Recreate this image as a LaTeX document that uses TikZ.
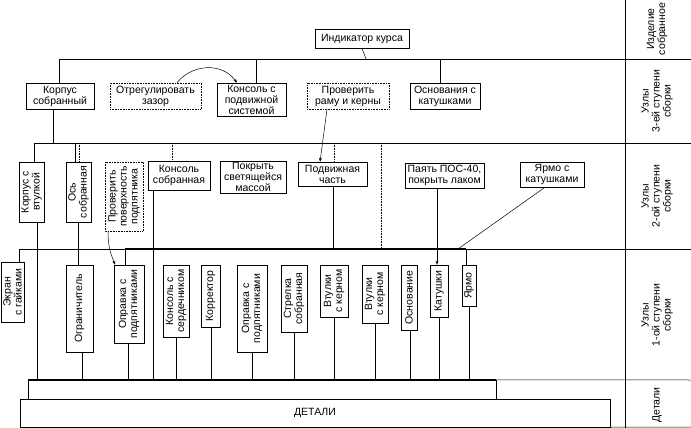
\documentclass[tikz,border=0pt]{standalone}
\usepackage{fontspec}
\setmainfont{Liberation Sans}
\usetikzlibrary{arrows.meta}
\begin{document}
\begin{tikzpicture}[x=1pt,y=-1pt,
  every node/.style={font=\fontsize{10.5}{11}\selectfont, align=center, inner sep=1pt},
  box/.style={draw, line width=0.5pt},
  dbox/.style={draw, densely dotted, line width=0.6pt},
  vbox/.style={box, rotate=90},
  vdbox/.style={dbox, rotate=90},
  ln/.style={line width=0.5pt},
  dl/.style={densely dotted, line width=0.6pt},
  arr/.style={ln, -{Stealth[length=4pt,width=3pt]}},
  bus/.style={line width=1.1pt},
  lab/.style={rotate=90, font=\fontsize{10.5}{11}\selectfont}]
\useasboundingbox (0,0) rectangle (691,428);
% row 3 and top
\node[box, minimum width=94, minimum height=19] (ind) at (362,38.5) {Индикатор курса};
\node[box, minimum width=68, minimum height=26] (korp3) at (60,96) {Корпус\\собранный};
\node[dbox, minimum width=91, minimum height=26] (otr) at (155.5,96) {Отрегулировать\\зазор};
\node[box, minimum width=69, minimum height=33] (kons3) at (251.5,99.5) {Консоль с\\подвижной\\системой};
\node[dbox, minimum width=82, minimum height=26] (prov3) at (348,96) {Проверить\\раму и керны};
\node[box, minimum width=70, minimum height=26] (osn3) at (445,96) {Основания с\\катушками};
% row 2
\node[vbox, minimum width=60, minimum height=25] (kv) at (31.5,192) {Корпус с\\втулкой};
\node[vbox, minimum width=60, minimum height=25] (os) at (78.5,192) {Ось\\собранная};
\node[vdbox, minimum width=69, minimum height=38] (pp) at (124,196.5) {Проверить\\поверхность\\подпятника};
\node[box, minimum width=62, minimum height=29] (ks) at (179,175.5) {Консоль\\собранная};
\node[box, minimum width=66, minimum height=32] (pokr) at (253,177) {Покрыть\\светящейся\\массой};
\node[box, minimum width=69, minimum height=24] (podv) at (332.5,174) {Подвижная\\часть};
\node[box, minimum width=79, minimum height=25] (pos) at (444.5,175.5) {Паять ПОС-40,\\покрыть лаком};
\node[box, minimum width=64, minimum height=25] (yarm2) at (552,174.5) {Ярмо с\\катушками};
% row 1
\node[vbox, minimum width=60, minimum height=23] (ekr) at (12.5,292) {Экран\\с гайками};
\node[vbox, minimum width=87, minimum height=27] (ogr) at (79.5,308.5) {Ограничитель};
\node[vbox, minimum width=78, minimum height=30] (opr1) at (129,304) {Оправка с\\подпятниками};
\node[vbox, minimum width=72, minimum height=26] (kss) at (176,301) {Консоль с\\сердечником};
\node[vbox, minimum width=62, minimum height=19] (korr) at (210.5,296) {Корректор};
\node[vbox, minimum width=87, minimum height=30] (opr2) at (252,308.5) {Оправка с\\подпятниками};
\node[vbox, minimum width=67, minimum height=26] (str) at (294,298.5) {Стрелка\\собранная};
\node[vbox, minimum width=52, minimum height=28] (vt1) at (334,291) {Втулки\\с керном};
\node[vbox, minimum width=58, minimum height=26] (vt2) at (375,294) {Втулки\\с керном};
\node[vbox, minimum width=65, minimum height=16] (osnv) at (409,297.5) {Основание};
\node[vbox, minimum width=52, minimum height=18] (kat) at (439,291) {Катушки};
\node[vbox, minimum width=41, minimum height=14] (yarmo) at (469,285.5) {Ярмо};
% details
\node[box, minimum width=468, minimum height=19] (det1) at (262,389.5) {};
\node[box, minimum width=590, minimum height=28] (det) at (315,413) {ДЕТАЛИ};
\draw[bus] (det1.north west) -- (det1.north east);
% row labels
\node[lab] (l1) at (657,29) {Изделие\\собранное};
\node[lab] (l2) at (657,101) {Узлы\\3-ей ступени\\сборки};
\node[lab] (l3) at (657,196) {Узлы\\2-ой ступени\\сборки};
\node[lab] (l4) at (657,315) {Узлы\\1-ой ступени\\сборки};
\node[lab] (l5) at (657,405) {Детали};
% grid lines
\coordinate (s1) at (59,59);
\coordinate (s2) at (34,143);
\coordinate (s3) at (19,249);
\draw[ln] (625,0) -- (625,428);
\draw[ln] (s1) -- (691,59);
\draw[ln] (s2) -- (691,143);
\draw[ln] (s3) -- (691,249);
\draw[ln] (det1.north east) -- (691,380);
\draw[ln] (det.south east) -- (691,427);
% row 3 connections
\draw[ln] (ind.south) -- (366,59);
\draw[ln] (s1) -- (korp3.north -| s1);
\draw[ln] (256,59) -- (256,0 |- kons3.north);
\draw[ln] (440,59) -- (440,0 |- osn3.north);
\draw[arr] (177,0 |- otr.north) .. controls (192,64) and (222,62) .. (237,0 |- kons3.north);
% row 2 connections
\draw[ln] (53,0 |- korp3.south) -- (53,143);
\draw[ln] (s2) -- (34,0 |- kv.east);
\draw[ln] (75,143) -- (75,0 |- os.east);
\draw[dl] (79,143) -- (79,0 |- os.east);
\draw[dl] (172,143) -- (172,0 |- ks.north);
\draw[arr] (327,0 |- prov3.south) -- (320,0 |- podv.north);
\draw[dl] (334,143) -- (334,0 |- podv.north);
\draw[dl] (381,143) -- (381,249);
\draw[ln] (333,0 |- podv.south) -- (333,249);
\draw[arr] (437,0 |- pos.south) -- (437,0 |- kat.east);
\draw[ln] (545,0 |- yarm2.south) -- (458,249);
% row 1 connections
\draw[ln] (s3) -- (19,0 |- ekr.east);
\draw[bus] (125,249) -- (466,249);
\draw[ln] (125,249) -- (125,0 |- opr1.east);
\draw[ln] (466,249) -- (466,0 |- yarmo.east);
\draw[ln] (78,0 |- os.west) -- (78,0 |- ogr.east);
\draw[arr] (108,0 |- pp.west) .. controls (108,250) and (112,256) .. (115,0 |- opr1.east);
% to details
\draw[ln] (37,0 |- kv.west) -- (37,0 |- det1.north);
\draw[ln] (82,0 |- ogr.west) -- (82,0 |- det1.north);
\draw[ln] (153,0 |- ks.south) -- (153,0 |- det1.north);
\draw[ln] (128,0 |- opr1.west) -- (128,0 |- det1.north);
\draw[ln] (176,0 |- kss.west) -- (176,0 |- det1.north);
\draw[ln] (211,0 |- korr.west) -- (211,0 |- det1.north);
\draw[ln] (252,0 |- opr2.west) -- (252,0 |- det1.north);
\draw[ln] (294,0 |- str.west) -- (294,0 |- det1.north);
\draw[ln] (334,0 |- vt1.west) -- (334,0 |- det1.north);
\draw[ln] (375,0 |- vt2.west) -- (375,0 |- det1.north);
\draw[ln] (410,0 |- osnv.west) -- (410,0 |- det1.north);
\draw[ln] (439,0 |- kat.west) -- (439,0 |- det1.north);
\draw[ln] (469,0 |- yarmo.west) -- (469,0 |- det1.north);
\end{tikzpicture}
\end{document}
